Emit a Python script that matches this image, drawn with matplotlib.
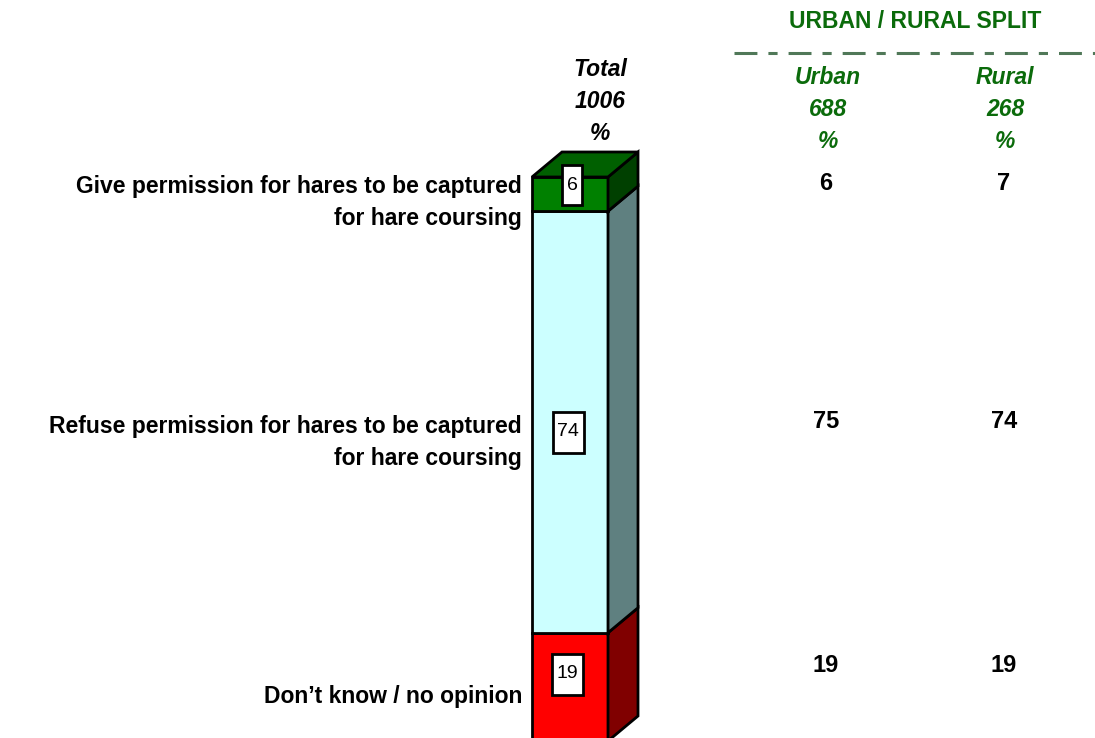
import matplotlib
matplotlib.use("Agg")
import matplotlib.pyplot as plt
from matplotlib.patches import Polygon, Rectangle

plt.rcParams['font.family'] = ['Liberation Sans', 'DejaVu Sans']

# data
categories = ["Don\u2019t know / no opinion",
              "Refuse permission for hares to be captured\nfor hare coursing",
              "Give permission for hares to be captured\nfor hare coursing"]
total = [19, 74, 6]
urban = [19, 75, 6]
rural = [19, 74, 7]
total_base = "1006"
urban_base = "688"
rural_base = "268"

front_cols = ["#ff0000", "#ccffff", "#008000"]
side_cols = ["#800000", "#5f8080", "#004000"]
top_col = "#006000"

W, H = 1095, 738
PX = 5.697            # pixels per percentage point
Y0 = 0.527            # value at bottom edge of the image

def yv(p):
    # pixel row (from top) -> value on the percent axis
    return Y0 + (H - p) / PX

fig = plt.figure(figsize=(W / 100, H / 100), dpi=100)
ax = fig.add_axes([0, 0, 1, 1])
ax.set_xlim(0, W)
ax.set_ylim(Y0, Y0 + H / PX)
ax.axis('off')

bx, bw = 532, 76       # bar left and width
dx, dy = 30, 25 / PX   # 3d depth

bottom = 0
for v, fc, sc in zip(total, front_cols, side_cols):
    top = bottom + v
    ax.add_patch(Rectangle((bx, bottom), bw, v, facecolor=fc, edgecolor='black', lw=2,
                           joinstyle='miter', zorder=2))
    ax.add_patch(Polygon([(bx + bw, bottom), (bx + bw + dx, bottom + dy),
                          (bx + bw + dx, top + dy), (bx + bw, top)],
                         closed=True, facecolor=sc, edgecolor='black', lw=2, joinstyle='miter', zorder=2))
    bottom = top
ax.add_patch(Polygon([(bx, bottom), (bx + dx, bottom + dy), (bx + bw + dx, bottom + dy), (bx + bw, bottom)],
                     closed=True, facecolor=top_col, edgecolor='black', lw=2, joinstyle='miter', zorder=2))

# value boxes on the bar (centre x, centre y pixel, width, height)
box_pos = [(567, 674, 31, 41), (568, 432, 31, 41), (572, 185, 20, 40)]
for v, (cx, cy, w, h) in zip(total, box_pos):
    ax.add_patch(Rectangle((cx - w / 2, yv(cy + h / 2)), w, h / PX, facecolor='white',
                           edgecolor='black', lw=2, zorder=3))
    ax.text(cx, yv(cy), str(v), ha='center', va='center', fontsize=14, zorder=4)

# category labels
label_y = [697, 442, 202]
for lab, ly in zip(categories, label_y):
    ax.text(522, yv(ly), lab, ha='right', va='center', fontsize=16.5, fontweight='bold',
            linespacing=1.5)

# column headers
green = "#0b6b0b"
ax.text(600, yv(101), "Total\n" + total_base + "\n%", ha='center', va='center', fontsize=16.5,
        fontweight='bold', fontstyle='italic', linespacing=1.5)
ax.text(828, yv(109), "Urban\n" + urban_base + "\n%", ha='center', va='center', fontsize=16.5,
        fontweight='bold', fontstyle='italic', color=green, linespacing=1.5)
ax.text(1005, yv(109), "Rural\n" + rural_base + "\n%", ha='center', va='center', fontsize=16.5,
        fontweight='bold', fontstyle='italic', color=green, linespacing=1.5)
ax.text(915, yv(22), "URBAN / RURAL SPLIT", ha='center', va='center', fontsize=16.5,
        fontweight='bold', color=green)
ax.plot([734, 1095], [yv(53), yv(53)], color="#507858", lw=2.2,
        linestyle=(0, (7.5, 3.6, 3, 3.6)))

# split values
val_y = [665, 422, 183]
for u, r, vy in zip(urban, rural, val_y):
    ax.text(826, yv(vy), str(u), ha='center', va='center', fontsize=17, fontweight='bold')
    ax.text(1004, yv(vy), str(r), ha='center', va='center', fontsize=17, fontweight='bold')

fig.savefig("out.png", dpi=100)
